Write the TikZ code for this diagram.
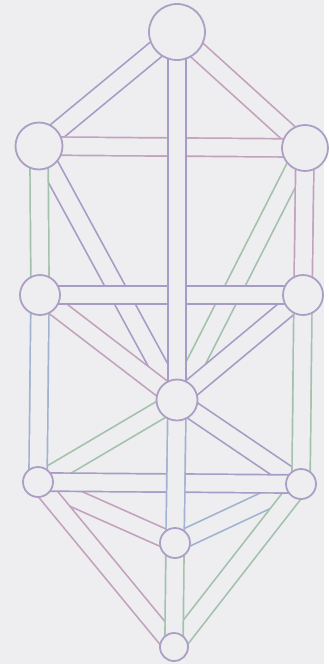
\documentclass[tikz,border=0pt]{standalone}
\usetikzlibrary{backgrounds}
\definecolor{paper}{HTML}{EEEEF1}
\definecolor{ringc}{HTML}{ABA0C4}
\definecolor{lilac}{HTML}{A79CC6}
\definecolor{mauve}{HTML}{C2A2BD}
\definecolor{sage}{HTML}{A2C2AC}
\definecolor{haze}{HTML}{A0B3D0}

\begin{document}
\begin{tikzpicture}[x=1pt, y=-1pt,
  sef/.style={circle, draw=ringc, fill=paper, line width=1.8pt, inner sep=0pt, minimum size=#1},
  tube/.style={draw=#1, line width=1.7pt, double=paper, double distance=16.5pt}]
\node[sef=56pt] (kether) at (177,32) {};
\node[sef=47pt] (binah) at (39,146) {};
\node[sef=46pt] (chokmah) at (305,148) {};
\node[sef=40pt] (geburah) at (40,295) {};
\node[sef=40pt] (chesed) at (303,295) {};
\node[sef=41pt] (tiphareth) at (177,400) {};
\node[sef=30pt] (hod) at (38,482) {};
\node[sef=30pt] (netzach) at (301,484) {};
\node[sef=30pt] (yesod) at (175,543) {};
\node[sef=28pt] (malkuth) at (174,647) {};
\begin{scope}[on background layer]
\fill[paper] (0,0) rectangle (324,664);
% diagonal paths
\draw[tube=lilac] (kether.center) -- (binah.center);
\draw[tube=mauve] (kether.center) -- (chokmah.center);
\draw[tube=lilac] (binah.center) -- (tiphareth.center);
\draw[tube=sage] (chokmah.center) -- (tiphareth.center);
\draw[tube=mauve] (geburah.center) -- (tiphareth.center);
\draw[tube=lilac] (chesed.center) -- (tiphareth.center);
\draw[tube=sage] (tiphareth.center) -- (hod.center);
\draw[tube=lilac] (tiphareth.center) -- (netzach.center);
\draw[tube=mauve] (hod.center) -- (yesod.center);
\draw[tube=haze] (netzach.center) -- (yesod.center);
\draw[tube=mauve] (hod.center) -- (malkuth.center);
\draw[tube=sage] (netzach.center) -- (malkuth.center);
% side pillars
\draw[tube=sage] (binah.center) -- (geburah.center);
\draw[tube=haze] (geburah.center) -- (hod.center);
\draw[tube=mauve] (chokmah.center) -- (chesed.center);
\draw[tube=sage] (chesed.center) -- (netzach.center);
% cross paths
\draw[tube=mauve] (binah.center) -- (chokmah.center);
\draw[tube=lilac] (geburah.center) -- (chesed.center);
\draw[tube=lilac] (hod.center) -- (netzach.center);
% middle pillar
\draw[tube=lilac] (kether.center) -- (tiphareth.center);
\draw[tube=haze] (tiphareth.center) -- (yesod.center);
\draw[tube=sage] (yesod.center) -- (malkuth.center);
\end{scope}
\useasboundingbox (0,0) rectangle (324,664);
\end{tikzpicture}
\end{document}
